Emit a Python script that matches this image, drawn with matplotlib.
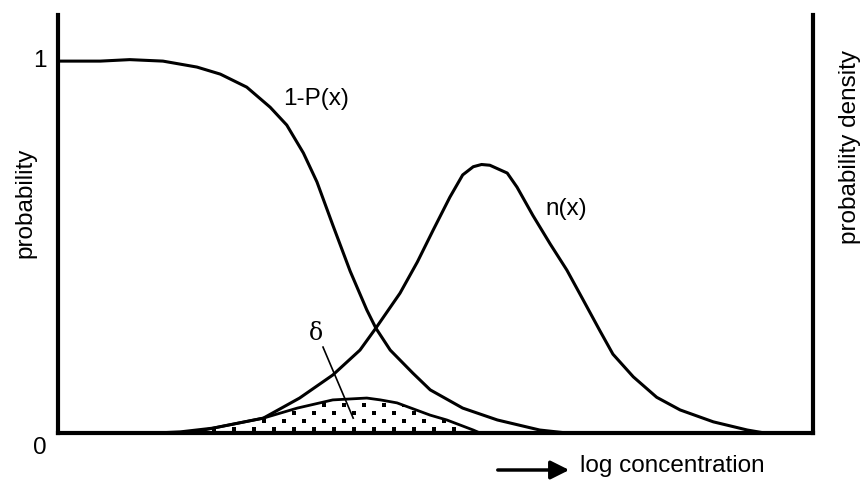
import numpy as np
import matplotlib
matplotlib.use('Agg')
import matplotlib.pyplot as plt
from matplotlib.patches import Polygon, FancyArrowPatch

plt.rcParams['font.family'] = ['Liberation Sans', 'DejaVu Sans']

# 1-P(x) (x in arbitrary log-concentration units)
p_x = [0, 0.56, 0.95, 1.39, 1.84, 2.15, 2.5, 2.81, 3.03, 3.25, 3.43, 3.64,
       3.87, 4.09, 4.21, 4.4, 4.7, 4.93, 5.36, 5.82, 6.38, 6.74, 10]
p_y = [1.0, 1.0, 1.004, 1.0, 0.984, 0.965, 0.93, 0.876, 0.828, 0.753,
       0.675, 0.559, 0.435, 0.331, 0.282, 0.223, 0.161, 0.116, 0.067,
       0.035, 0.008, 0, 0]

# n(x), probability density
n_x = [0, 1.3, 1.62, 2.05, 2.72, 3.2, 3.64, 4.0, 4.21, 4.53, 4.76, 4.97,
       5.19, 5.36, 5.5, 5.61, 5.72, 5.95, 6.08, 6.29, 6.52, 6.74, 6.95,
       7.18, 7.35, 7.62, 7.93, 8.24, 8.68, 9.13, 9.36, 10]
n_y = [0, 0, 0.003, 0.013, 0.040, 0.094, 0.156, 0.223, 0.282, 0.376,
       0.46, 0.546, 0.634, 0.694, 0.716, 0.722, 0.72, 0.699, 0.661, 0.585,
       0.508, 0.438, 0.36, 0.274, 0.212, 0.151, 0.096, 0.062, 0.030,
       0.008, 0, 0]

# shaded overlap region (delta)
d_x = [1.75, 2.05, 2.72, 3.17, 3.64, 4.09, 4.27, 4.49, 4.93, 5.15, 5.5,
       5.59]
d_y = [0, 0.013, 0.040, 0.067, 0.089, 0.094, 0.089, 0.081, 0.048, 0.035,
       0.008, 0]

# leader line for the delta label
delta_xy = (3.41, 0.268)
lead_x = [3.51, 3.91]
lead_y = [0.231, 0.040]

fig = plt.figure(figsize=(8.64, 4.8), dpi=100)
ax = fig.add_axes([58/864, 47/480, 755/864, 418/480])

line_kw = dict(color='black', lw=2.2, solid_capstyle='round',
               solid_joinstyle='round')
ax.plot(p_x, p_y, **line_kw)
ax.plot(n_x, n_y, **line_kw)

# stippled delta area: outline plus a staggered dot grid clipped to it
patch = Polygon(np.column_stack([d_x, d_y]), closed=True,
                facecolor='white', edgecolor='black', lw=2.0,
                joinstyle='round')
ax.add_patch(patch)
gx, gy = [], []
for i, yy in enumerate(np.arange(0.012, 0.1, 0.0215)):
    off = 0.13 if i % 2 else 0.0
    for xx in np.arange(1.8 + off, 5.6, 0.265):
        gx.append(xx)
        gy.append(yy)
dots = ax.scatter(gx, gy, s=6, marker='s', color='black', lw=0, zorder=3)
dots.set_clip_path(patch)

ax.plot(lead_x, lead_y, color='black', lw=1.2)
ax.text(*delta_xy, 'δ', fontsize=17, family='DejaVu Serif',
        ha='center', va='center')
ax.text(3.42, 0.898, '1-P(x)', fontsize=17.5, ha='center', va='center')
ax.text(6.73, 0.602, 'n(x)', fontsize=17.5, ha='center', va='center')

ax.set_xlim(0, 10)
ax.set_ylim(0, 1.124)
ax.set_xticks([])
ax.set_yticks([])
ax.spines['top'].set_visible(False)
for side in ('left', 'right', 'bottom'):
    ax.spines[side].set_linewidth(3)

ax.text(-0.024, 1.0, '1', transform=ax.get_yaxis_transform(),
        fontsize=17.5, ha='center', va='center')
ax.text(-0.024, -0.012, '0', transform=ax.get_yaxis_transform(),
        fontsize=17.5, ha='center', va='top')

fig.text(25/864, 1 - 203/480, 'probability', rotation=90,
         fontsize=17.5, ha='center', va='center')
fig.text(850/864, 1 - 147/480, 'probability density', rotation=90,
         fontsize=17.5, ha='center', va='center')

fig.text(580/864, 1 - 466/480, 'log concentration', fontsize=17.5,
         ha='left', va='center')
fig.patches.append(FancyArrowPatch(
    (495/864, 1 - 470/480), (572/864, 1 - 470/480),
    transform=fig.transFigure, arrowstyle='-|>', mutation_scale=28,
    lw=2.5, color='black'))

fig.savefig('out.png', dpi=100)
